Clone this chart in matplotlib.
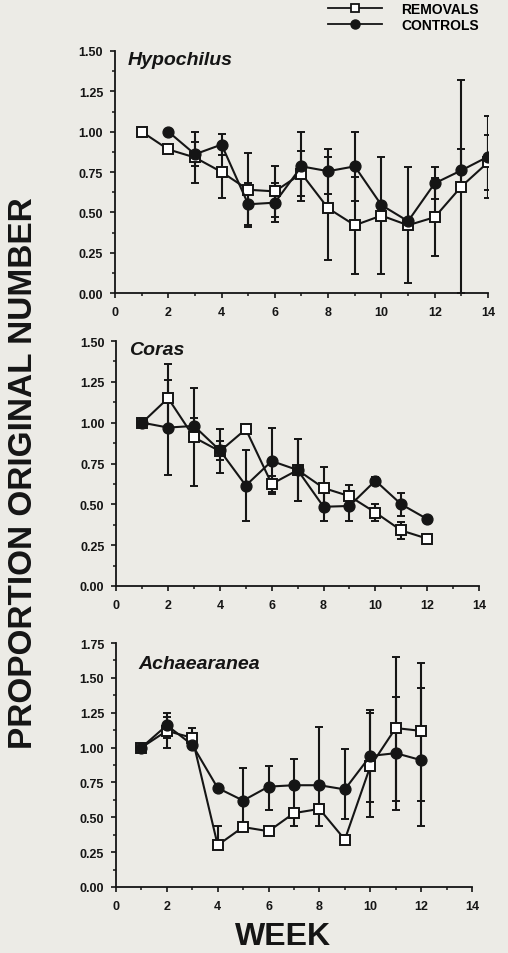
import numpy as np
import matplotlib
matplotlib.use('Agg')
import matplotlib.pyplot as plt
from matplotlib.lines import Line2D
from matplotlib.ticker import MultipleLocator, FormatStrFormatter

plt.rcParams['font.family'] = ['Liberation Sans', 'DejaVu Sans']
plt.rcParams['font.weight'] = 'bold'

bg = '#ecebe6'
ink = '#151515'

# Hypochilus
h_rem_wk = np.arange(1, 15)
h_rem = [1.00, 0.89, 0.84, 0.75, 0.64, 0.63, 0.74, 0.525, 0.42, 0.48, 0.42, 0.47, 0.66, 0.81]
h_rem_err = [0, 0, 0.16, 0.16, 0.23, 0.16, 0.14, 0.32, 0.30, 0.36, 0.36, 0.24, 0.66, 0.17]
h_con_wk = np.arange(2, 15)
h_con = [1.00, 0.86, 0.92, 0.55, 0.56, 0.785, 0.755, 0.785, 0.545, 0.445, 0.68, 0.76, 0.845]
h_con_err = [0, 0.075, 0.065, 0.13, 0.12, 0.215, 0.14, 0.215, 0, 0, 0.10, 0.13, 0.255]

# Coras
c_wk = np.arange(1, 13)
c_rem = [1.00, 1.15, 0.91, 0.825, 0.96, 0.625, 0.71, 0.60, 0.55, 0.45, 0.34, 0.29]
c_rem_err = [0, 0.21, 0.30, 0.135, 0.02, 0.05, 0.19, 0.13, 0.07, 0.05, 0.05, 0]
c_con = [1.00, 0.97, 0.98, 0.83, 0.615, 0.765, 0.71, 0.485, 0.49, 0.645, 0.50, 0.41]
c_con_err = [0, 0.29, 0.05, 0.06, 0.215, 0.20, 0.19, 0.085, 0.09, 0.02, 0.07, 0]

# Achaearanea (bars not symmetric)
a_wk = np.arange(1, 13)
a_rem = [1.00, 1.12, 1.07, 0.30, 0.43, 0.40, 0.53, 0.56, 0.34, 0.865, 1.14, 1.12]
a_rem_lo = [0, 0.12, 0, 0, 0, 0, 0.09, 0.12, 0, 0.365, 0.52, 0.50]
a_rem_hi = [0, 0.10, 0.07, 0.14, 0, 0, 0, 0, 0, 0.38, 0.51, 0.49]
a_con = [1.00, 1.16, 1.02, 0.71, 0.62, 0.72, 0.73, 0.73, 0.70, 0.94, 0.96, 0.91]
a_con_lo = [0, 0.09, 0, 0, 0.19, 0.17, 0.20, 0.17, 0.21, 0.33, 0.405, 0.47]
a_con_hi = [0, 0.09, 0, 0, 0.235, 0.145, 0.19, 0.42, 0.29, 0.33, 0.405, 0.52]

fig = plt.figure(figsize=(5.08, 9.54), dpi=100, facecolor=bg)


def panel(rect, ymax, title, tpos, wr, yr, er, wc, yc, ec):
    ax = fig.add_axes(rect)
    ax.set_facecolor(bg)
    for w, y, e in [(wr, yr, er), (wc, yc, ec)]:
        ax.errorbar(w, y, yerr=e, fmt='none', ecolor=ink, elinewidth=1.5,
                    capsize=2.6, capthick=1.4, zorder=2)
    ax.plot(wr, yr, '-s', color=ink, mfc='white', mec=ink, ms=7.3, mew=1.4,
            lw=1.5, zorder=3)
    ax.plot(wc, yc, '-o', color=ink, ms=7.8, lw=1.5, zorder=4)
    ax.set_xlim(0, 14)
    ax.set_ylim(0, ymax)
    for s in ['top', 'right']:
        ax.spines[s].set_visible(False)
    for s in ['left', 'bottom']:
        ax.spines[s].set_linewidth(1.3)
        ax.spines[s].set_color(ink)
    ax.xaxis.set_major_locator(MultipleLocator(2))
    ax.xaxis.set_minor_locator(MultipleLocator(1))
    ax.yaxis.set_major_locator(MultipleLocator(0.25))
    ax.yaxis.set_minor_locator(MultipleLocator(0.125))
    ax.yaxis.set_major_formatter(FormatStrFormatter('%.2f'))
    ax.tick_params(which='major', direction='out', length=3.5, width=1.2,
                   color=ink, labelsize=9, labelcolor=ink)
    ax.tick_params(which='minor', direction='out', length=2.2, width=1.1, color=ink)
    ax.tick_params(axis='x', which='major', pad=6)
    ax.tick_params(axis='y', which='major', pad=5)
    for lab in ax.get_xticklabels() + ax.get_yticklabels():
        lab.set_fontweight('bold')
    ax.text(tpos[0], tpos[1], title, transform=ax.transAxes, style='italic',
            fontweight='bold', fontsize=14, va='top', ha='left', color=ink)
    return ax


panel([0.2264, 0.6918, 0.7342, 0.2537], 1.5, 'Hypochilus', (0.035, 1.0),
      h_rem_wk, h_rem, h_rem_err, h_con_wk, h_con, h_con_err)
panel([0.2289, 0.3847, 0.7140, 0.2568], 1.5, 'Coras', (0.035, 1.0),
      c_wk, c_rem, c_rem_err, c_wk, c_con, c_con_err)
panel([0.2283, 0.0692, 0.7008, 0.2557], 1.75, 'Achaearanea', (0.062, 0.95),
      a_wk, a_rem, [a_rem_lo, a_rem_hi], a_wk, a_con, [a_con_lo, a_con_hi])

h1 = Line2D([], [], color=ink, marker='s', mfc='white', mec=ink, ms=6, mew=1.3, lw=1.3)
h2 = Line2D([], [], color=ink, marker='o', ms=6.5, lw=1.3)
fig.legend([h1, h2], ['REMOVALS', 'CONTROLS'], loc='upper left',
           bbox_to_anchor=(328 / 508, 1 - 3 / 954), frameon=False,
           handlelength=3.9, handletextpad=1.4, labelspacing=0.12,
           borderpad=0, borderaxespad=0, prop={'weight': 'bold', 'size': 10})

fig.text(24 / 508, 1 - 473 / 954, 'PROPORTION ORIGINAL NUMBER', rotation=90,
         ha='center', va='center', fontsize=24, fontweight='bold', color=ink)
fig.text(283 / 508, 1 - 937 / 954, 'WEEK', ha='center', va='center',
         fontsize=23, fontweight='bold', color=ink)

fig.savefig('out.png', dpi=100, facecolor=bg)
